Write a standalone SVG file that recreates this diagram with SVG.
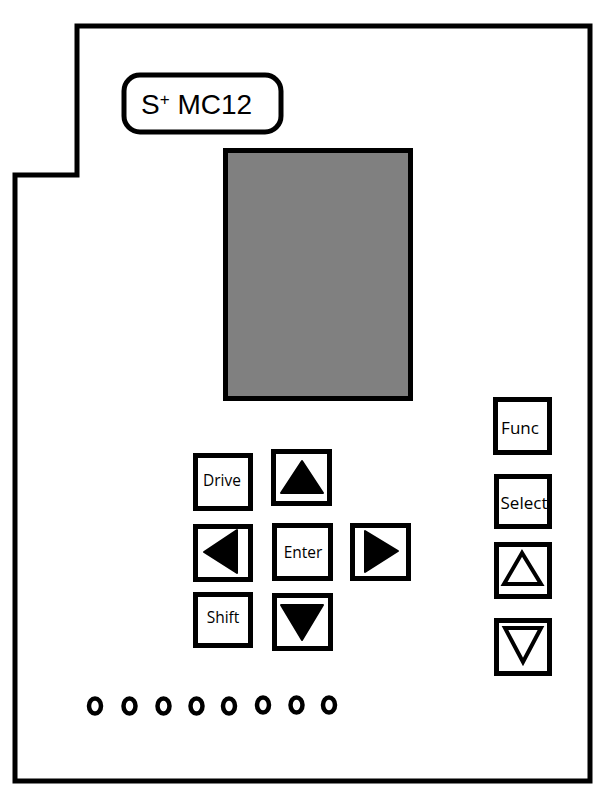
<svg xmlns="http://www.w3.org/2000/svg" width="603" height="803" viewBox="0 0 603 803">
<style>
.ln{fill:none;stroke:#000;stroke-width:5;stroke-linejoin:miter}
.btn{fill:#fff;stroke:#000;stroke-width:5}
.lbl{font-family:"Open Sans","Liberation Sans",sans-serif;font-size:15.5px;fill:#000;text-anchor:middle}
.lbl2{font-family:"Open Sans","Liberation Sans",sans-serif;font-size:17px;fill:#000;text-anchor:middle}
.dot{fill:none;stroke:#000;stroke-width:4.5}
.tri{fill:#000;stroke:#000;stroke-width:2;stroke-linejoin:round}
.otri{fill:none;stroke:#000;stroke-width:4;stroke-linejoin:miter}
</style>
<rect width="603" height="803" fill="#fff"/>
<g id="housing">
<path class="ln" d="M15,175 H77 V26 H590 V781 H15 Z"/>
</g>
<g id="brand">
<rect x="124" y="75" width="157" height="57" rx="16" ry="16" class="ln"/>
<text x="141" y="114" font-family="'Liberation Sans',Arial,sans-serif" font-size="28" fill="#000">S<tspan font-size="17" dy="-9">+</tspan><tspan dy="9"> MC12</tspan></text>
</g>
<g id="screen">
<rect x="225.5" y="150.5" width="185" height="248" fill="#808080" stroke="#000" stroke-width="5"/>
</g>
<g id="drive">
<rect class="btn" x="195.5" y="455.5" width="55" height="53"/>
<text class="lbl" x="222" y="486">Drive</text>
</g>
<g id="up">
<rect class="btn" x="273.5" y="451.5" width="56" height="52"/>
<polygon class="tri" points="302,461 281,493 323,493"/>
</g>
<g id="left">
<rect class="btn" x="195.5" y="526.5" width="55" height="53"/>
<polygon class="tri" points="204,552 237,530 237,573"/>
</g>
<g id="enter">
<rect class="btn" x="274.5" y="525.5" width="56" height="53"/>
<text class="lbl" x="303" y="558">Enter</text>
</g>
<g id="right">
<rect class="btn" x="352.5" y="525.5" width="56" height="53"/>
<polygon class="tri" points="398,551 365,531 365,572"/>
</g>
<g id="shift">
<rect class="btn" x="195.5" y="594.5" width="55" height="51"/>
<text class="lbl" x="223" y="623">Shift</text>
</g>
<g id="down">
<rect class="btn" x="274.5" y="595.5" width="56" height="53"/>
<polygon class="tri" points="281,605 323,605 302,640"/>
</g>
<g id="func">
<rect class="btn" x="495.5" y="399.5" width="54" height="53"/>
<text class="lbl2" x="520" y="434">Func</text>
</g>
<g id="select">
<rect class="btn" x="496.5" y="476.5" width="53" height="50"/>
<text class="lbl2" x="524" y="509">Select</text>
</g>
<g id="up2">
<rect class="btn" x="496.5" y="544.5" width="53" height="52"/>
<polygon class="otri" points="522,553 504,584 541,584"/>
</g>
<g id="down2">
<rect class="btn" x="496.5" y="620.5" width="53" height="53"/>
<polygon class="otri" points="505,628 541,628 523,662"/>
</g>
<g id="leds">
<ellipse class="dot" cx="95" cy="706" rx="6" ry="7.5"/>
<ellipse class="dot" cx="129.5" cy="706" rx="6" ry="7.5"/>
<ellipse class="dot" cx="163.5" cy="706" rx="6" ry="7.5"/>
<ellipse class="dot" cx="196.5" cy="706" rx="6" ry="7.5"/>
<ellipse class="dot" cx="229" cy="706" rx="6" ry="7.5"/>
<ellipse class="dot" cx="263" cy="705" rx="6" ry="7.5"/>
<ellipse class="dot" cx="296.5" cy="705" rx="6" ry="7.5"/>
<ellipse class="dot" cx="329" cy="705" rx="6" ry="7.5"/>
</g>
<g id="connectors"/>
</svg>
